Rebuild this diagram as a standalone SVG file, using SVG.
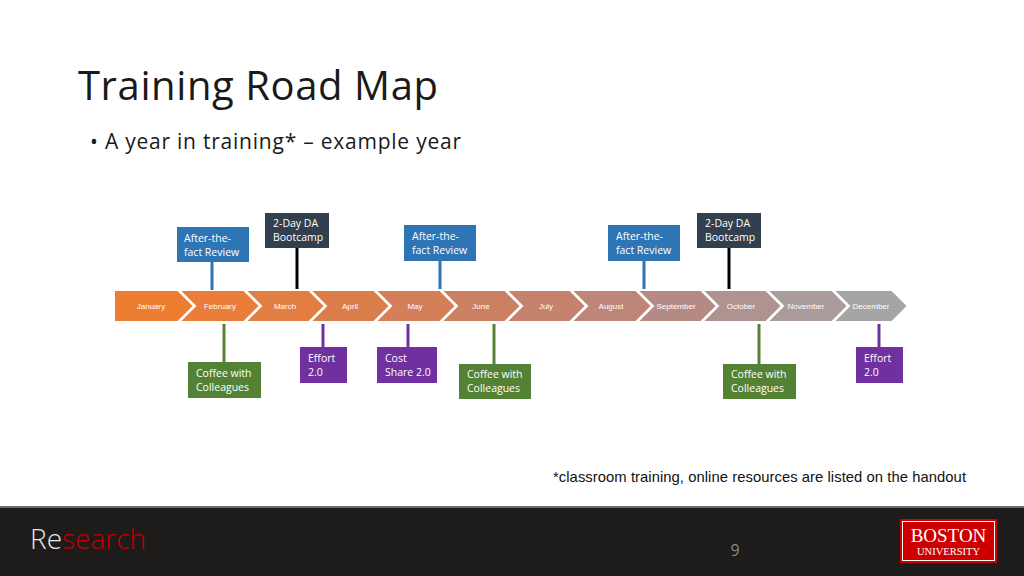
<svg xmlns="http://www.w3.org/2000/svg" width="1024" height="576" viewBox="0 0 1024 576">
<style>
.t{font-family:"Open Sans","Liberation Sans",sans-serif;font-size:10.5px;fill:#fff}
.m{font-family:"Liberation Sans",Arial,sans-serif;font-size:8px;fill:#fff;text-anchor:middle}
.blue{fill:#2E75B6}.dark{fill:#323F4F}.green{fill:#548235}.purple{fill:#7030A0}
</style>
<rect width="1024" height="576" fill="#fff"/>
<text x="78" y="100" font-family="Open Sans,Liberation Sans,sans-serif" font-size="40" textLength="360" fill="#1a1a1a">Training Road Map</text>
<text x="90" y="149" font-family="Open Sans,Liberation Sans,sans-serif" font-size="21" textLength="371" fill="#1a1a1a">• A year in training* – example year</text>
<g id="timeline" stroke="#fff" stroke-width="2">
<polygon points="114,290 178,290 194,306 178,322 114,322" fill="#ED7D31"/>
<polygon points="179,290 244,290 260,306 244,322 179,322 195,306" fill="#E97D39"/>
<polygon points="245,290 309,290 325,306 309,322 245,322 261,306" fill="#E37E42"/>
<polygon points="310,290 374,290 390,306 374,322 310,322 326,306" fill="#DC7E4C"/>
<polygon points="375,290 440,290 456,306 440,322 375,322 391,306" fill="#D47F58"/>
<polygon points="441,290 505,290 521,306 505,322 441,322 457,306" fill="#CC8062"/>
<polygon points="506,290 570,290 586,306 570,322 506,322 522,306" fill="#C5826C"/>
<polygon points="571,290 636,290 652,306 636,322 571,322 587,306" fill="#BD8678"/>
<polygon points="637,290 701,290 717,306 701,322 637,322 653,306" fill="#B68A84"/>
<polygon points="702,290 766,290 782,306 766,322 702,322 718,306" fill="#AF9390"/>
<polygon points="767,290 832,290 848,306 832,322 767,322 783,306" fill="#A99C9B"/>
<polygon points="833,290 892,290 908,306 892,322 833,322 849,306" fill="#A5A5A5"/>
</g>
<g id="months">
<text class="m" x="151" y="309">January</text><text class="m" x="220" y="309">February</text>
<text class="m" x="285" y="309">March</text><text class="m" x="350" y="309">April</text>
<text class="m" x="415" y="309">May</text><text class="m" x="481" y="309">June</text>
<text class="m" x="546" y="309">July</text><text class="m" x="611" y="309">August</text>
<text class="m" x="676" y="309">September</text><text class="m" x="741" y="309">October</text>
<text class="m" x="806" y="309">November</text><text class="m" x="871" y="309">December</text>
</g>
<g id="connectors" stroke-width="3">
<line x1="212" y1="262" x2="212" y2="290" stroke="#2E75B6"/>
<line x1="297" y1="248" x2="297" y2="289" stroke="#000"/>
<line x1="440" y1="261" x2="440" y2="289" stroke="#2E75B6"/>
<line x1="644" y1="261" x2="644" y2="289" stroke="#2E75B6"/>
<line x1="729" y1="248" x2="729" y2="289" stroke="#000"/>
<line x1="224" y1="324" x2="224" y2="362" stroke="#548235"/>
<line x1="323" y1="324" x2="323" y2="347" stroke="#7030A0"/>
<line x1="408" y1="324" x2="408" y2="347" stroke="#7030A0"/>
<line x1="494" y1="324" x2="494" y2="364" stroke="#548235"/>
<line x1="759" y1="324" x2="759" y2="364" stroke="#548235"/>
<line x1="879" y1="324" x2="879" y2="347" stroke="#7030A0"/>
</g>
<g id="n1"><rect class="blue" x="177" y="227" width="72" height="35"/><text class="t" x="184" y="242">After-the-</text><text class="t" x="184" y="256">fact Review</text></g>
<g id="n2"><rect class="dark" x="265" y="213" width="64" height="35"/><text class="t" x="273" y="227">2-Day DA</text><text class="t" x="273" y="241">Bootcamp</text></g>
<g id="n3"><rect class="blue" x="404" y="225" width="72" height="36"/><text class="t" x="412" y="240">After-the-</text><text class="t" x="412" y="254">fact Review</text></g>
<g id="n4"><rect class="blue" x="608" y="225" width="72" height="36"/><text class="t" x="616" y="240">After-the-</text><text class="t" x="616" y="254">fact Review</text></g>
<g id="n5"><rect class="dark" x="697" y="213" width="64" height="35"/><text class="t" x="705" y="227">2-Day DA</text><text class="t" x="705" y="241">Bootcamp</text></g>
<g id="n6"><rect class="green" x="188" y="362" width="73" height="36"/><text class="t" x="196" y="377">Coffee with</text><text class="t" x="196" y="391">Colleagues</text></g>
<g id="n7"><rect class="purple" x="300" y="347" width="47" height="36"/><text class="t" x="308" y="362">Effort</text><text class="t" x="308" y="376">2.0</text></g>
<g id="n8"><rect class="purple" x="377" y="347" width="60" height="36"/><text class="t" x="385" y="362">Cost</text><text class="t" x="385" y="376">Share 2.0</text></g>
<g id="n9"><rect class="green" x="459" y="364" width="72" height="35"/><text class="t" x="467" y="378">Coffee with</text><text class="t" x="467" y="392">Colleagues</text></g>
<g id="n10"><rect class="green" x="723" y="364" width="73" height="35"/><text class="t" x="731" y="378">Coffee with</text><text class="t" x="731" y="392">Colleagues</text></g>
<g id="n11"><rect class="purple" x="856" y="347" width="47" height="36"/><text class="t" x="864" y="362">Effort</text><text class="t" x="864" y="376">2.0</text></g>
<text x="553" y="482" font-family="Liberation Sans,Arial,sans-serif" font-size="14.8" textLength="413" fill="#111">*classroom training, online resources are listed on the handout</text>
<rect x="0" y="506" width="1024" height="70" fill="#1E1B1B"/>
<line x1="0" y1="507" x2="1024" y2="507" stroke="#7a8a99" stroke-width="1.5"/>
<text x="30" y="549" font-family="Open Sans,Liberation Sans,sans-serif" font-size="28" font-weight="300" fill="#e6e6e6">Re<tspan fill="#C00000">search</tspan></text>
<text x="735" y="556" text-anchor="middle" font-family="Open Sans,Liberation Sans,sans-serif" font-size="16" fill="#888">9</text>
<g id="bu"><rect x="900" y="519" width="97" height="44" fill="#CC0000"/><rect x="902.5" y="521.5" width="92" height="39" fill="none" stroke="#fff" stroke-width="1"/>
<text x="948.5" y="542" text-anchor="middle" font-family="Liberation Serif,serif" font-size="19" fill="#fff">BOSTON</text>
<text x="948.5" y="555" text-anchor="middle" font-family="Liberation Serif,serif" font-size="10.5" fill="#fff">UNIVERSITY</text></g>
</svg>
